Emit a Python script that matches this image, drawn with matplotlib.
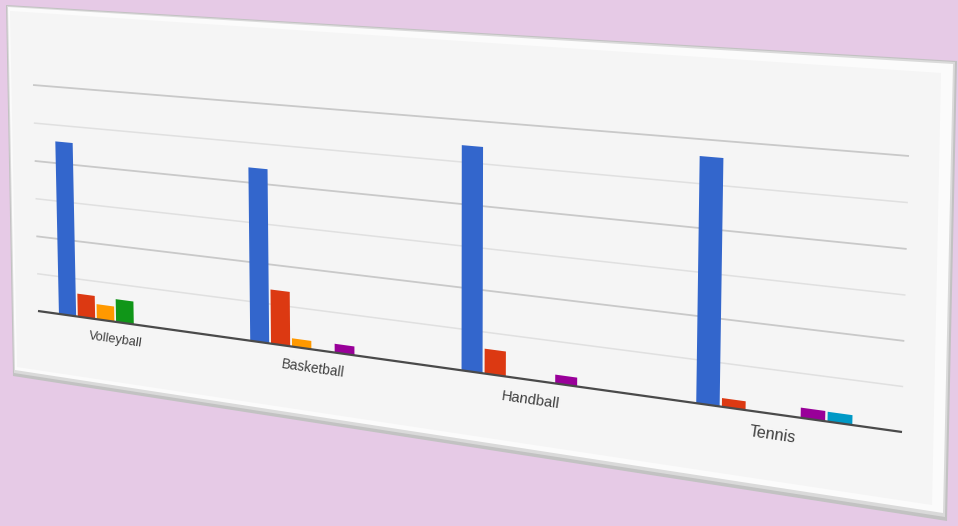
import numpy as np
import matplotlib
matplotlib.use("Agg")
import matplotlib.pyplot as plt
import matplotlib.transforms as mtransforms
from matplotlib.patches import Polygon

# ---------------- data ----------------
categories = ["Volleyball", "Basketball", "Handball", "Tennis"]
blue_values = [45.7, 43.8, 54.0, 56.2]
red_values = [6.1, 13.7, 6.0, 2.0]
orange_values = [4.0, 2.1, 0.0, 0.0]
green_values = [6.0, 0.0, 0.0, 0.0]
purple_values = [0.0, 2.2, 2.1, 2.3]
cyan_values = [0.0, 0.0, 0.0, 2.2]
gridline_values = [10, 20, 30, 40, 50, 60]
major_gridlines = [20, 40, 60]

series = [blue_values, red_values, orange_values, green_values,
          purple_values, cyan_values]
colors = ["#3366cc", "#dc3912", "#ff9900", "#109618", "#990099", "#0099c6"]

# ---------------- figure ----------------
W, H = 958, 526
fig = plt.figure(figsize=(W / 100, H / 100), dpi=100)
fig.patch.set_facecolor("#e6cae6")

ax = fig.add_axes([0, 0, 1, 1])
ax.set_xlim(-0.42, 3.49)
ax.set_ylim(0, 60)
ax.set_axis_off()


def img(pts):
    """image pixel (origin top-left) -> display pixel (origin bottom-left)"""
    return [(x, H - y) for x, y in pts]


class Perspective(mtransforms.Transform):
    input_dims = 2
    output_dims = 2
    is_separable = False
    has_inverse = False

    def __init__(self, M):
        super().__init__()
        self.M = M

    def transform_non_affine(self, values):
        v = np.asarray(values, dtype=float)
        v2 = v.reshape(-1, 2)
        h = np.column_stack([v2, np.ones(len(v2))]) @ self.M.T
        out = h[:, :2] / h[:, 2:3]
        return out.reshape(v.shape)


def solve_homography(src, dst):
    A, b = [], []
    for (x, y), (u, v) in zip(src, dst):
        A.append([x, y, 1, 0, 0, 0, -u * x, -u * y]); b.append(u)
        A.append([0, 0, 0, x, y, 1, -v * x, -v * y]); b.append(v)
    h = np.linalg.solve(np.array(A, float), np.array(b, float))
    return np.append(h, 1.0).reshape(3, 3)


# flat plot area corners -> tilted plot area corners (BL, BR, TR, TL)
flat = ax.transAxes.transform([(0, 0), (1, 0), (1, 1), (0, 1)])
tilted = img([(38, 311), (902, 432), (909, 156), (33, 85)])
P = Perspective(solve_homography(flat, tilted))
T = ax.transData + P
PIX = mtransforms.IdentityTransform()

# ---------------- panel (card with bevelled edge) ----------------
panel_layers = [
    ([(6, 5), (957, 61), (947, 521), (13, 376)], "#c2c2c2"),
    ([(7, 6), (955, 62), (945, 517), (14, 373)], "#dadada"),
    ([(8, 7), (953, 64), (943, 513), (15, 370)], "#fbfbfb"),
    ([(10, 11), (941, 73), (932, 505), (17, 367)], "#f5f5f5"),
]
for k, (pts, col) in enumerate(panel_layers):
    ax.add_patch(Polygon(img(pts), closed=True, facecolor=col, edgecolor="none",
                         transform=PIX, zorder=0.1 * (k + 1), clip_on=False))

# ---------------- gridlines ----------------
x0, x1 = ax.get_xlim()
for g in gridline_values:
    major = g in major_gridlines
    ax.plot([x0, x1], [g, g], transform=T, clip_on=False, zorder=1,
            color="#c9c9c9" if major else "#e0e0e0", lw=1.3 if major else 1.1,
            solid_capstyle="butt")

# ---------------- bars ----------------
slot = 0.103
bar_w = 0.094
xpos = np.arange(len(categories))
for j, (vals, c) in enumerate(zip(series, colors)):
    bars = ax.bar(xpos + (j - 2.5) * slot, vals, width=bar_w, color=c,
                  linewidth=0, zorder=2)
    for b in bars:
        b.set_transform(T)
        b.set_clip_on(False)

ax.plot([x0, x1], [0, 0], transform=T, clip_on=False, zorder=3,
        color="#4a4a4a", lw=1.6, solid_capstyle="butt")

# ---------------- category labels ----------------
label_y = -4.8
for i, name in enumerate(categories):
    p0 = T.transform((i, label_y))
    px = T.transform((i + 0.05, label_y))
    py = T.transform((i, label_y + 0.5))
    dx, dy = px - p0, py - p0
    ang = np.degrees(np.arctan2(dx[1], dx[0]))
    area = abs(dx[0] * dy[1] - dx[1] * dy[0]) / (0.05 * 0.5)
    fs_px = 0.48 * np.sqrt(area)
    ax.text(i, label_y, name, transform=T, rotation=ang, rotation_mode="anchor",
            ha="center", va="center", fontsize=fs_px * 0.72, color="#404040",
            family=["Liberation Sans", "DejaVu Sans"],
            clip_on=False, zorder=5)

fig.savefig("out.png", dpi=100, facecolor=fig.get_facecolor())
